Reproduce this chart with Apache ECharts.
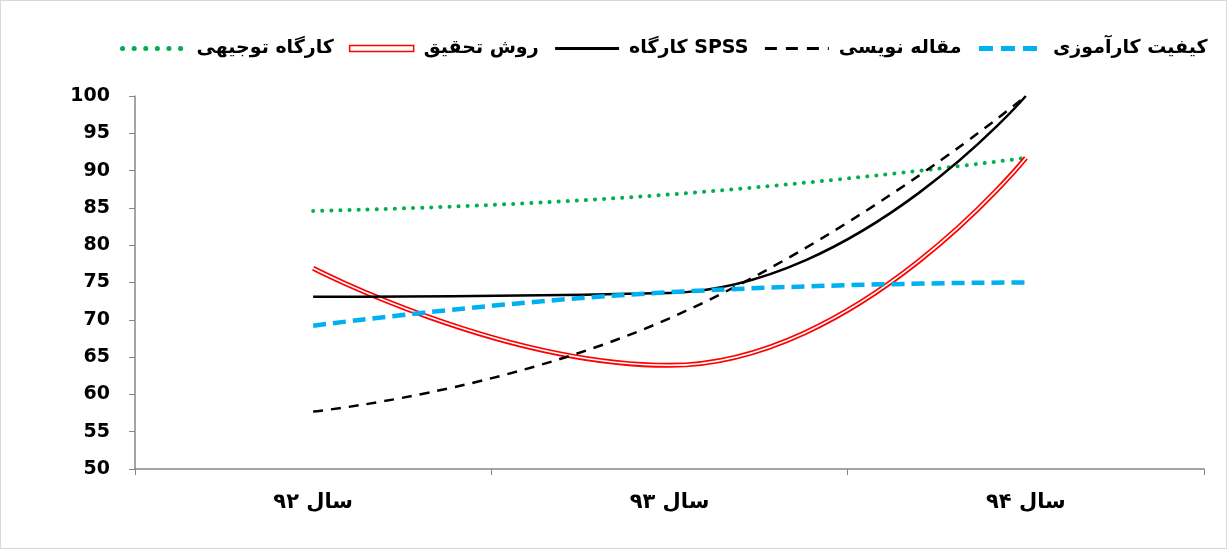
<!DOCTYPE html>
<html><head><meta charset="utf-8">
<script src="https://cdn.jsdelivr.net/npm/echarts@6/dist/echarts.min.js"></script>
<style>html,body{margin:0;padding:0;background:#fff}#c{width:1227px;height:549px;box-sizing:border-box;border:1px solid #d9d9d9}</style>
</head><body><div id="c"></div>
<script>
const categories = ['سال ۹۲', 'سال ۹۳', 'سال ۹۴'];
const seriesNames = ['کارگاه توجیهی', 'روش تحقیق', 'کارگاه SPSS', 'مقاله نویسی', 'کیفیت کارآموزی'];
const tojihi = [84.6, 86.8, 91.7];
const raveshTahghigh = [76.9, 63.9, 91.7];
const spss = [73.1, 73.6, 100];
const maghale = [57.7, 70.2, 100];
const karamozi = [69.2, 73.7, 75];
const yTicks = {min: 50, max: 100, interval: 5};

const chart = echarts.init(document.getElementById('c'));
const font = "'DejaVu Sans',sans-serif";
const smooth = 0.5;
const green = '#00B050', blue = '#00B0F0', red = '#ff0000';
chart.setOption({
  animation: false,
  legend: {
    top: 38, left: 119, right: 0, padding: 0, itemGap: 15, itemWidth: 64, itemHeight: 6,
    itemStyle: {opacity: 0},
    textStyle: {fontFamily: font, fontWeight: 'bold', fontSize: 19, color: '#000', padding: [0, 0, 0, 5]},
    data: [
      {name: seriesNames[0], lineStyle: {color: green, width: 5, type: [0.1, 11.5], cap: 'round'}},
      {name: seriesNames[1], icon: 'rect', itemStyle: {opacity: 1, color: '#fff', borderColor: red, borderWidth: 1.5}},
      {name: seriesNames[2], lineStyle: {color: '#000', width: 3, type: 'solid'}},
      {name: seriesNames[3], lineStyle: {color: '#000', width: 3, type: [12, 9]}},
      {name: seriesNames[4], lineStyle: {color: blue, width: 5, type: [14, 8]}}
    ]
  },
  grid: {left: 134, right: 22, top: 95, bottom: 79},
  xAxis: {
    type: 'category', data: categories, boundaryGap: true,
    axisLine: {lineStyle: {color: '#868686', width: 1.5}},
    axisTick: {show: true, length: 6, lineStyle: {color: '#868686'}},
    axisLabel: {fontFamily: font, fontWeight: 'bold', fontSize: 21, color: '#000', margin: 23}
  },
  yAxis: {
    type: 'value', min: yTicks.min, max: yTicks.max, interval: yTicks.interval,
    axisLine: {show: true, lineStyle: {color: '#868686', width: 1.5}},
    axisTick: {show: true, length: 6, lineStyle: {color: '#868686'}},
    splitLine: {show: false},
    axisLabel: {fontFamily: font, fontWeight: 'bold', fontSize: 19, color: '#000', margin: 25}
  },
  series: [
    {name: seriesNames[0], type: 'line', data: tojihi, smooth, symbol: 'none',
      lineStyle: {color: green, width: 4, type: [0.1, 9], cap: 'round'}, itemStyle: {color: green}, z: 2},
    {name: seriesNames[1], type: 'line', data: raveshTahghigh, smooth, symbol: 'none',
      lineStyle: {color: red, width: 5}, itemStyle: {color: red}, z: 3},
    {name: seriesNames[1] + '_inner', type: 'line', data: raveshTahghigh, smooth, symbol: 'none',
      lineStyle: {color: '#ffffff', width: 1.6}, z: 4, silent: true},
    {name: seriesNames[2], type: 'line', data: spss, smooth, symbol: 'none',
      lineStyle: {color: '#000', width: 2.5}, itemStyle: {color: '#000'}, z: 5},
    {name: seriesNames[3], type: 'line', data: maghale, smooth, symbol: 'none',
      lineStyle: {color: '#000', width: 2.5, type: [10, 8]}, itemStyle: {color: '#000'}, z: 5},
    {name: seriesNames[4], type: 'line', data: karamozi, smooth, symbol: 'none',
      lineStyle: {color: blue, width: 4.5, type: [13, 7]}, itemStyle: {color: blue}, z: 6}
  ]
});
</script></body></html>
